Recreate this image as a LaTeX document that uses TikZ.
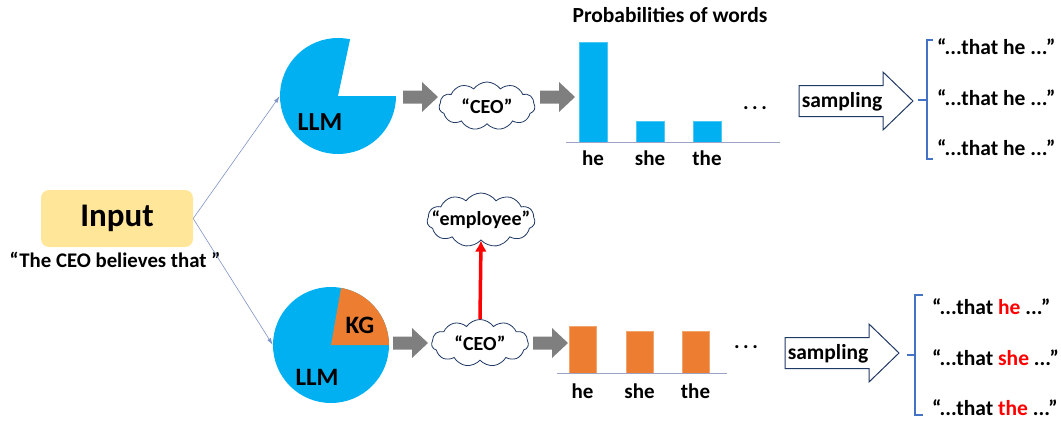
\documentclass[tikz,border=0pt]{standalone}
\usepackage{fontspec}
\setmainfont{Carlito}
\usetikzlibrary{shapes.symbols,arrows.meta}
\definecolor{llmblue}{HTML}{00B0F0}
\definecolor{kgorange}{HTML}{ED7D31}
\definecolor{inyellow}{HTML}{FFE699}
\definecolor{arrgray}{HTML}{7F7F7F}
\definecolor{navy}{HTML}{203864}
\definecolor{brblue}{HTML}{4472C4}
\definecolor{axisc}{HTML}{9DA3C4}
\definecolor{linkc}{HTML}{7F93C6}
\newcommand{\fs}[1]{\fontsize{#1}{#1}\selectfont\bfseries}
\begin{document}
\begin{tikzpicture}[x=1pt,y=-1pt,
  txt/.style={font=\fs{21}, inner sep=0pt},
  cloudnode/.style={cloud, cloud puffs=11, cloud puff arc=110, aspect=2, draw=navy, fill=white, line width=0.8pt, inner sep=0pt},
  garrow/.pic={\fill[arrgray] (0,-6.5) -- (19,-6.5) -- (19,-15) -- (35,0) -- (19,15) -- (19,6.5) -- (0,6.5) -- cycle;},
  sarrow/.pic={\draw[navy, fill=white, line width=1pt, line join=miter] (0,-15.5) -- (84,-15.5) -- (84,-29) -- (114,0) -- (84,29) -- (84,15.5) -- (0,15.5) -- cycle;},
  bluebar/.style={fill=llmblue, draw=llmblue!70!white, line width=0.4pt, minimum width=28, inner sep=0pt, anchor=south},
  orangebar/.style={fill=kgorange, draw=kgorange!70!white, line width=0.4pt, minimum width=27, inner sep=0pt, anchor=south},
  axisline/.style={draw=axisc, line width=0.8pt},
  link/.style={draw=linkc, line width=0.6pt, -{Latex[length=7pt,width=4pt]}},
  bracket/.style={draw=brblue, line width=1.5pt},
  pienode/.style={circle, minimum size=116, inner sep=0pt}
]
\useasboundingbox (0,0) rectangle (1061,421);

% Input
\node[fill=inyellow, rounded corners=8pt, minimum width=152, minimum height=57, inner sep=0pt, font=\fs{33}] (input) at (117,218.5) {Input};
\node[txt, font=\fs{20.8}] (sent) at (115,260) {“The CEO believes that ”};

% Top pie
\node[pienode] (pie1) at (338,96) {};
\fill[llmblue] (pie1.center) -- ++(-78:58) arc[start angle=-78, end angle=-360, radius=58] -- cycle;
\node[txt, font=\fs{26}] (llm1) at (320,122) {LLM};

% Bottom pie
\node[pienode] (pie2) at (331,345) {};
\fill[llmblue] (pie2.center) circle[radius=58];
\fill[kgorange] (pie2.center) -- ++(0:58) arc[start angle=0, end angle=-80, radius=58] -- cycle;
\node[txt, font=\fs{25}] (kg) at (360,325) {KG};
\node[txt, font=\fs{25}] (llm2) at (317,377) {LLM};

% links
\draw[link] (input.east) -- (pie1.west);
\draw[link] (input.east) -- (pie2.west);

% gray arrows
\pic at (403,97) {garrow};
\pic at (540,97) {garrow};
\pic at (393,343) {garrow};
\pic at (533,343) {garrow};

% clouds
\node[cloudnode, minimum width=96, minimum height=48] (ceo1) at (487,106) {};
\node[txt, font=\fs{20}] (ceo1t) at (ceo1.center) {“CEO”};
\node[cloudnode, minimum width=97, minimum height=47] (ceo2) at (480,343) {};
\node[txt, font=\fs{20}] (ceo2t) at (ceo2.center) {“CEO”};
\node[cloudnode, minimum width=108, minimum height=54] (emp) at (481,220) {};
\node[txt, font=\fs{20}] (empt) at (emp.center) {“employee”};
\draw[red, line width=3.5pt, -{Latex[length=11pt,width=12pt]}] (ceo2.north) -- (emp.south);

% top chart
\node[txt, font=\fs{21.5}] (title) at (670,15) {Probabilities of words};
\node[bluebar, minimum height=100] (tb1) at (593,142) {};
\node[bluebar, minimum height=21] (tb2) at (650,142) {};
\node[bluebar, minimum height=21] (tb3) at (707,142) {};
\coordinate (ta0) at (566,142);
\coordinate (ta1) at (780,142);
\draw[axisline] (ta0) -- (ta1);
\node[txt] (tl1) at (593,158) {he};
\node[txt] (tl2) at (650,158) {she};
\node[txt] (tl3) at (707,158) {the};
\node[txt] (tdots) at (755,108) {.\,.\,.};

% bottom chart
\node[orangebar, minimum height=47] (bb1) at (582.5,373) {};
\node[orangebar, minimum height=42] (bb2) at (639.5,373) {};
\node[orangebar, minimum height=42] (bb3) at (695.5,373) {};
\coordinate (ba0) at (557,373);
\coordinate (ba1) at (727,373);
\draw[axisline] (ba0) -- (ba1);
\node[txt] (bl1) at (582.5,391) {he};
\node[txt] (bl2) at (639.5,391) {she};
\node[txt] (bl3) at (695.5,391) {the};
\node[txt] (bdots) at (746,347) {.\,.\,.};

% sampling arrows
\pic at (799,101) {sarrow};
\node[txt, font=\fs{21.5}] (samp1) at (842,102) {sampling};
\pic at (785,353) {sarrow};
\node[txt, font=\fs{21.5}] (samp2) at (828,354) {sampling};

% top bracket
\draw[bracket] (933,40) -- (927,40) -- (927,159) -- (933,159);
\draw[bracket] (927,100) -- (918,100);
\node[txt, font=\fs{21.5}, anchor=west] (o1) at (937,47) {“...that he ...”};
\node[txt, font=\fs{21.5}, anchor=west] (o2) at (937,98) {“...that he ...”};
\node[txt, font=\fs{21.5}, anchor=west] (o3) at (937,148) {“...that he ...”};

% bottom bracket
\draw[bracket] (923,295) -- (915,295) -- (915,415) -- (923,415);
\draw[bracket] (915,355) -- (907,355);
\node[txt, font=\fs{21.5}, anchor=west] (p1) at (932,307) {“...that \textcolor{red}{he} ...”};
\node[txt, font=\fs{21.5}, anchor=west] (p2) at (932,358) {“...that \textcolor{red}{she} ...”};
\node[txt, font=\fs{21.5}, anchor=west] (p3) at (932,408) {“...that \textcolor{red}{the} ...”};
\end{tikzpicture}
\end{document}
